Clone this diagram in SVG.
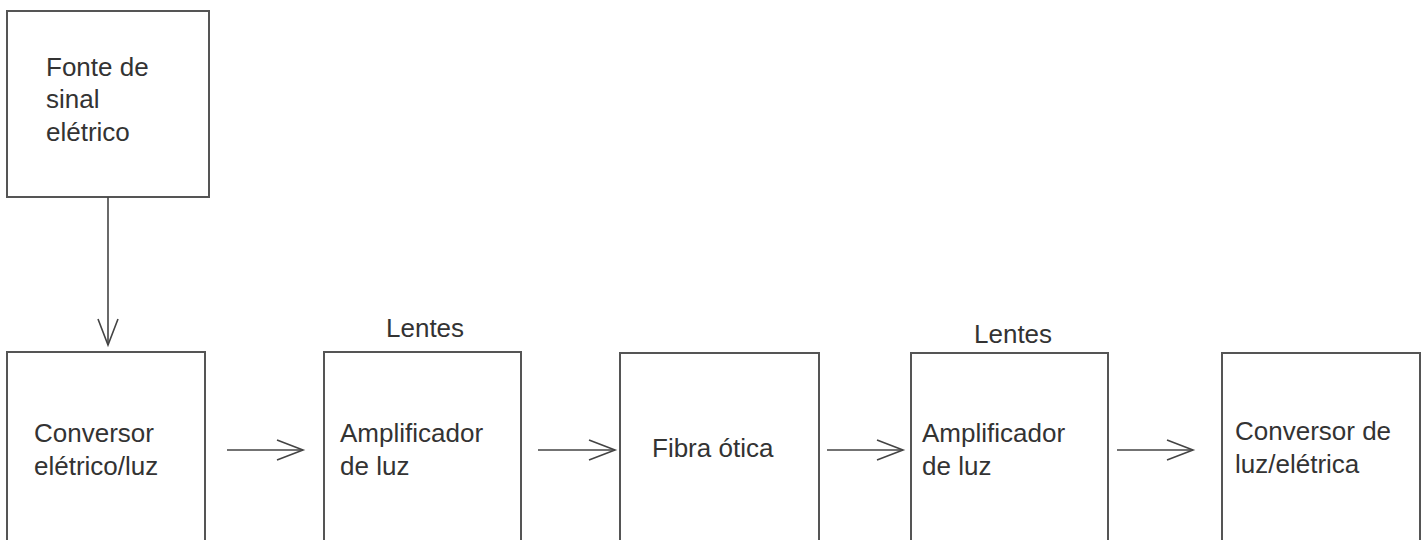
<svg xmlns="http://www.w3.org/2000/svg" width="1428" height="540" viewBox="0 0 1428 540">
<defs>
<style>
.box{fill:#fff;stroke:#555;stroke-width:2}
.lbl{font-family:"Liberation Sans",Arial,sans-serif;font-size:26px;fill:#333}
.conn{stroke:#444;stroke-width:1.6;fill:none}
</style>
<marker id="arr" markerUnits="userSpaceOnUse" markerWidth="30" markerHeight="24" refX="26" refY="11" orient="auto" overflow="visible">
<path d="M0,1 L26,11 L0,21" fill="none" stroke="#444" stroke-width="1.6"/>
</marker>
</defs>
<rect width="1428" height="540" fill="#fff"/>
<g id="fonte">
<rect class="box" x="7" y="11" width="202" height="186"/>
<text class="lbl" x="46" y="76">Fonte de</text>
<text class="lbl" x="46" y="108">sinal</text>
<text class="lbl" x="46" y="141">elétrico</text>
</g>
<g id="conversor1">
<rect class="box" x="7" y="352" width="198" height="200"/>
<text class="lbl" x="34" y="442">Conversor</text>
<text class="lbl" x="34" y="475">elétrico/luz</text>
</g>
<g id="amplificador1">
<rect class="box" x="324" y="352" width="197" height="200"/>
<text class="lbl" x="386" y="337">Lentes</text>
<text class="lbl" x="340" y="442">Amplificador</text>
<text class="lbl" x="340" y="475">de luz</text>
</g>
<g id="fibra">
<rect class="box" x="620" y="353" width="199" height="200"/>
<text class="lbl" x="652" y="457">Fibra ótica</text>
</g>
<g id="amplificador2">
<rect class="box" x="911" y="353" width="197" height="200"/>
<text class="lbl" x="974" y="343">Lentes</text>
<text class="lbl" x="922" y="442">Amplificador</text>
<text class="lbl" x="922" y="475">de luz</text>
</g>
<g id="conversor2">
<rect class="box" x="1222" y="353" width="198" height="200"/>
<text class="lbl" x="1235" y="440">Conversor de</text>
<text class="lbl" x="1235" y="473">luz/elétrica</text>
</g>
<g id="connectors">
<line class="conn" x1="108" y1="197" x2="108" y2="345" marker-end="url(#arr)"/>
<line class="conn" x1="227" y1="450" x2="303" y2="450" marker-end="url(#arr)"/>
<line class="conn" x1="538" y1="450" x2="615" y2="450" marker-end="url(#arr)"/>
<line class="conn" x1="827" y1="450" x2="903" y2="450" marker-end="url(#arr)"/>
<line class="conn" x1="1117" y1="450" x2="1193" y2="450" marker-end="url(#arr)"/>
</g>
</svg>
